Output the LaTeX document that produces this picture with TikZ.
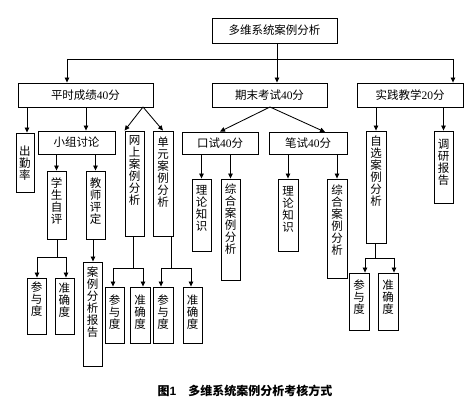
\documentclass[tikz,border=0pt]{standalone}
\usepackage{fontspec}
\setmainfont{Liberation Serif}
\setsansfont{Liberation Sans}
\newfontfamily\cjk{Noto Sans CJK SC}
\usetikzlibrary{arrows.meta}
\tikzset{
  bx/.style={draw, line width=0.85pt, inner sep=0pt, font=\cjk\fontsize{11.5}{13}\selectfont},
  vt/.style={inner sep=0pt, align=center, font=\cjk\fontsize{11.5}{12}\selectfont},
  ln/.style={line width=0.85pt},
  ar/.style={ln, -{Triangle[length=5pt,width=4.5pt]}},
}
\newcommand\HB[6]{\node[bx, minimum width={(#4-#2)*1pt}, minimum height={(#5-#3)*1pt}] (#1) at ({(#2+#4)/2},{(#3+#5)/2}) {#6};}
\newcommand\VB[7]{\node[bx, minimum width={(#4-#2)*1pt}, minimum height={(#5-#3)*1pt}] (#1) at ({(#2+#4)/2},{(#3+#5)/2}) {};
  \node[vt, anchor=north] (#1t) at ([yshift=-#7pt]#1.north) {#6};}
\begin{document}
\begin{tikzpicture}[x=1pt,y=-1pt]
\useasboundingbox (0,0) rectangle (475,406);
% row 1
\HB{top}{212}{18}{337}{43}{多维系统案例分析}
% row 2
\HB{ps}{18}{83}{153}{107}{平时成绩{\rmfamily 40}分}
\HB{qm}{212}{83}{327}{107}{期末考试{\rmfamily 40}分}
\HB{sj}{357}{83}{463}{107}{实践教学{\rmfamily 20}分}
% row 3
\VB{cq}{16}{133}{34}{192}{出\\勤\\率}{13}
\HB{xz}{38}{131}{115}{154}{小组讨论}
\VB{ws}{125}{131}{144}{236}{网\\上\\案\\例\\分\\析}{5}
\VB{dy}{153}{131}{173}{236}{单\\元\\案\\例\\分\\析}{6}
\HB{ks}{182}{132}{258}{154}{口试{\rmfamily 40}分}
\HB{bs}{269}{132}{347}{154}{笔试{\rmfamily 40}分}
\VB{zx}{366}{131}{386}{243}{自\\选\\案\\例\\分\\析}{5}
\VB{dyb}{434}{131}{453}{203}{调\\研\\报\\告}{8}
% row 4
\VB{xs}{47}{171}{66}{239}{学\\生\\自\\评}{7}
\VB{js}{86}{171}{105}{239}{教\\师\\评\\定}{7}
\VB{kl}{192}{179}{211}{251}{理\\论\\知\\识}{7}
\VB{kz}{221}{179}{240}{280}{综\\合\\案\\例\\分\\析}{5}
\VB{bl}{278}{179}{298}{251}{理\\论\\知\\识}{8}
\VB{bz}{327}{179}{347}{278}{综\\合\\案\\例\\分\\析}{6}
% row 5
\VB{cya}{27}{278}{46}{334}{参\\与\\度}{4}
\VB{zqa}{55}{278}{74}{334}{准\\确\\度}{5}
\VB{bg}{83}{262}{102}{366}{案\\例\\分\\析\\报\\告}{5}
\VB{cyb}{105}{287}{124}{343}{参\\与\\度}{8}
\VB{zqb}{130}{287}{150}{343}{准\\确\\度}{8}
\VB{cyc}{153}{287}{173}{343}{参\\与\\度}{8}
\VB{zqc}{183}{287}{202}{343}{准\\确\\度}{8}
\VB{cyd}{349}{273}{369}{330}{参\\与\\度}{7}
\VB{zqd}{378}{273}{398}{330}{准\\确\\度}{7}
% caption
\node[font=\cjk\bfseries\fontsize{12}{14}\selectfont, inner sep=0pt] (cap) at (245,391) {图{\sffamily\bfseries 1}\quad 多维系统案例分析考核方式};
% connectors from top
\coordinate (j0) at (277,59);
\coordinate (jl) at (67,59);
\coordinate (jr) at (453,59);
\draw[ln] (top.south -| j0) -- (j0);
\draw[ln] (jl) -- (jr);
\draw[ar] (j0) -- (qm.north -| j0);
\draw[ar] (jl) -- (ps.north -| jl);
\draw[ar] (jr) -- (sj.north -| jr);
% from ps
\coordinate (a1) at (27,131);
\coordinate (a2) at (86,131);
\draw[ar] (ps.south -| a1) -- (cq.north -| a1);
\draw[ar] (ps.south -| a2) -- (xz.north -| a2);
\coordinate (pd) at (143,107);
\draw[ar] (pd) -- (ws.north west);
\draw[ar] (pd) -- (dy.north);
% from qm
\coordinate (qd) at (270,107);
\coordinate (qr) at (325,132);
\draw[ar] (qd) -- (ks.north);
\draw[ar] (qd) -- (qr);
% from sj
\draw[ar] (sj.south -| zx.north) -- (zx.north);
\draw[ar] (sj.south -| dyb.north) -- (dyb.north);
% row 3 -> 4
\draw[ar] (xz.south -| xs.north) -- (xs.north);
\draw[ar] (xz.south -| js.north) -- (js.north);
\draw[ar] (ks.south -| kl.north) -- (kl.north);
\draw[ar] (ks.south -| kz.north) -- (kz.north);
\draw[ar] (bs.south -| bl.north) -- (bl.north);
\draw[ar] (bs.south -| bz.north) -- (bz.north);
% forks
\coordinate (f1) at (57,257);
\coordinate (f1l) at (37,257);
\coordinate (f1r) at (66,257);
\draw[ln] (xs.south -| f1) -- (f1);
\draw[ln] (f1l) -- (f1r);
\draw[ar] (f1l) -- (cya.north -| f1l);
\draw[ar] (f1r) -- (zqa.north -| f1r);
\coordinate (g1) at (93,240);
\draw[ar] (js.south -| g1) -- (bg.north -| g1);
\coordinate (f2) at (133,268);
\coordinate (f2l) at (113,268);
\coordinate (f2r) at (143,268);
\draw[ln] (ws.south -| f2) -- (f2);
\draw[ln] (f2l) -- (f2r);
\draw[ar] (f2l) -- (cyb.north -| f2l);
\draw[ar] (f2r) -- (zqb.north -| f2r);
\coordinate (f3) at (171,268);
\coordinate (f3l) at (161,268);
\coordinate (f3r) at (191,268);
\draw[ln] (dy.south -| f3) -- (f3);
\draw[ln] (f3l) -- (f3r);
\draw[ar] (f3l) -- (cyc.north -| f3l);
\draw[ar] (f3r) -- (zqc.north -| f3r);
\coordinate (f4) at (375,258);
\coordinate (f4l) at (365,258);
\coordinate (f4r) at (394,258);
\draw[ln] (zx.south -| f4) -- (f4);
\draw[ln] (f4l) -- (f4r);
\draw[ar] (f4l) -- (cyd.north -| f4l);
\draw[ar] (f4r) -- (zqd.north -| f4r);
\end{tikzpicture}
\end{document}
